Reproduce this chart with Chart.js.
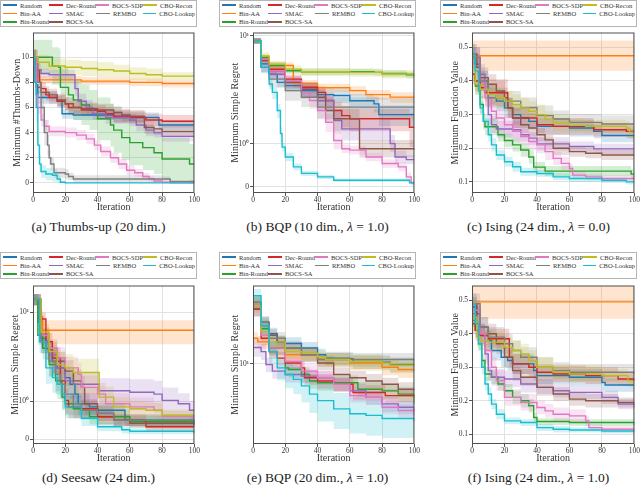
<!DOCTYPE html>
<html>
<head>
<meta charset="utf-8">
<title>Combinatorial BO results</title>
<script src="https://cdn.jsdelivr.net/npm/chart.js"></script>
<style>
  body { margin: 0; width: 640px; height: 486px; background: #fff; position: relative; overflow: hidden;
         font-family: "Liberation Serif", "DejaVu Serif", serif; color: #222; }
  canvas { position: absolute; }
  .legend { position: absolute; width: 197px; height: 27px; box-sizing: border-box; border: 1px solid #b5b5b5;
            display: grid; grid-template-columns: 46px 47px 47px 52px; grid-template-rows: repeat(3, 8.3px);
            padding: 0 0 0 2px; font-size: 6.5px; color: #333; }
  .item { display: flex; align-items: center; white-space: nowrap; }
  .sw { display: inline-block; width: 14px; height: 1.6px; margin-right: 3px; }
  .cap { position: absolute; width: 197px; text-align: center; font-size: 13.5px; white-space: nowrap; }
</style>
</head>
<body>
<script>
// methods in legend order
var methods = ['Random', 'Bin-AA', 'Bin-Round', 'Dec-Round', 'SMAC', 'BOCS-SA', 'BOCS-SDP', 'REMBO', 'CBO-Recon', 'CBO-Lookup'];
var colors = ['#1f77b4', '#ff7f0e', '#2ca02c', '#d62728', '#9467bd', '#8c564b', '#e377c2', '#7f7f7f', '#bcbd22', '#17becf'];
// legend cells (column, row), filled column by column: 3, 3, 2, 2
var legendCells = [[1,1],[1,2],[1,3],[2,1],[2,2],[2,3],[3,1],[3,2],[4,1],[4,2]];

// each series: [iteration, mean, spread] at every step change

// (a) Thumbs-up (20 dim.)
var thumbsUp = [
  [[0,10,.6],[2,7.8,.6],[3,6.8,.5],[15,6.5,.4],[18,5.5,.4],[25,5.4,.4],[50,5.2,.4],[78,4.6,.4],[100,4.6,.4]],
  [[0,10,.6],[2,8.5,.4],[4,8.2,.3],[30,8.1,.3],[60,8.0,.3],[80,7.9,.3],[100,7.85,.3]],
  [[0,10,1.4],[12,9.3,1.5],[16,9.2,1.5],[17,7.6,1.6],[22,7.0,1.6],[25,6.6,1.6],[30,6.2,1.6],[35,5.8,1.6],[40,5.1,1.7],[48,4.6,1.7],[50,4.2,1.8],[55,3.6,1.8],[60,3.2,1.8],[68,2.8,1.8],[75,2.4,1.7],[80,1.9,1.7],[97,1.5,1.6],[100,1.5,1.6]],
  [[0,10,.6],[2,9,.6],[4,8,.5],[5,7.5,.5],[8,7.0,.5],[10,6.8,.5],[15,6.5,.5],[20,6.3,.5],[22,6.0,.5],[30,5.8,.5],[40,5.7,.5],[45,5.5,.5],[50,5.3,.5],[60,5.2,.5],[70,5.0,.5],[80,4.9,.5],[100,4.9,.5]],
  [[0,10,.6],[2,9,.5],[5,8.7,.4],[10,8.6,.4],[26,7.5,.6],[28,6.5,.6],[33,6.0,.6],[37,5.5,.5],[45,5.2,.5],[60,5.0,.5],[64,4.6,.5],[70,4.2,.5],[75,4.0,.4],[80,3.7,.4],[100,3.7,.4]],
  [[0,10,.6],[2,7.6,.5],[5,7.2,.5],[10,7.0,.5],[15,6.6,.5],[20,6.3,.5],[25,6.0,.5],[30,5.9,.5],[40,5.8,.5],[50,5.6,.5],[55,5.4,.5],[60,5.3,.5],[69,4.4,.5],[75,4.3,.5],[80,4.1,.4],[100,4.1,.4]],
  [[0,10,.6],[2,7,.6],[3,6,.5],[5,5,.5],[7,4.5,.5],[10,4.1,.4],[20,4.0,.4],[27,3.8,.4],[33,3.5,.4],[38,3.0,.4],[42,2.5,.4],[48,2.0,.4],[53,1.5,.4],[58,1.0,.4],[63,0.8,.3],[68,0.5,.3],[72,0.3,.2],[75,0.15,.15],[80,0.05,.1],[85,0,0],[100,0,0]],
  [[0,10,.6],[3,8,.8],[5,6,1.0],[7,4,1.0],[9,3,.8],[10,2,.6],[11,1.5,.5],[13,0.8,.4],[20,0.7,.4],[22,0.5,.3],[25,0.3,.3],[80,0.3,.2],[85,0.1,.1],[100,0.05,.05]],
  [[0,10,.6],[3,9.6,.6],[10,9.3,.6],[20,9.2,.6],[30,9.1,.6],[40,9.0,.6],[50,8.9,.5],[60,8.7,.5],[70,8.6,.5],[80,8.5,.3],[100,8.5,.3]],
  [[0,10,.6],[1,8,1.0],[2,6,1.2],[3,3,1.0],[4,1.5,.7],[5,0.9,.5],[8,0.7,.5],[12,0.6,.5],[15,0.3,.3],[17,0.05,.1],[20,0,0],[100,0,0]]
];

// (b) BQP (10 dim., lambda = 1.0)
var bqp10 = [
  [[0,9,.5],[5,5.5,.5],[10,4.4,.4],[15,3.7,.4],[20,3.45,.4],[30,3.1,.4],[40,2.85,.4],[50,2.8,.4],[60,2.5,.4],[75,2.34,.4],[78,1.86,.4],[100,1.86,.4]],
  [[0,9,.5],[5,6.1,.4],[10,5.3,.4],[25,3.6,.3],[40,3.3,.3],[60,3.1,.3],[70,2.85,.3],[85,2.7,.3],[100,2.65,.3]],
  [[0,9,.5],[5,6.3,.4],[10,5.3,.4],[20,4.74,.3],[30,4.64,.3],[75,4.58,.3],[80,4.48,.3],[95,4.35,.3],[100,4.35,.3]],
  [[0,9,.5],[5,5.9,.4],[10,4.9,.4],[20,3.97,.4],[30,3.33,.4],[40,2.99,.4],[45,2.51,.4],[50,2.03,.4],[55,1.82,.4],[60,1.7,.4],[97,1.42,.5],[100,1.42,.5]],
  [[0,9,.5],[5,5.1,.5],[10,4.4,.5],[20,3.7,.4],[30,3.2,.5],[40,2.5,.5],[50,1.64,.4],[55,1.37,.3],[85,1.0,.2],[88,0.69,.15],[95,0.63,.1],[100,0.63,.1]],
  [[0,9,.5],[5,5.9,.5],[10,4.74,.5],[20,3.7,.5],[30,3.2,.5],[40,2.69,.5],[45,2.03,.4],[50,1.7,.4],[66,0.88,.2],[100,0.86,.15]],
  [[0,9,.5],[5,6.1,.4],[10,4.74,.4],[20,3.84,.4],[30,2.99,.4],[35,2.51,.4],[40,2.03,.3],[45,1.58,.3],[50,1.07,.2],[55,0.88,.1],[60,0.85,.1],[70,0.69,.1],[80,0.54,.1],[90,0.46,.1],[95,0.23,.1],[98,0.09,.05],[100,0.08,.05]],
  [[0,9,.5],[5,5.1,.6],[10,3.97,.6],[20,3.1,.6],[30,2.69,.5],[40,2.18,.5],[100,2.15,.5]],
  [[0,9,.5],[5,6.5,.5],[10,5.46,.4],[20,4.91,.4],[30,4.64,.4],[60,4.58,.4],[80,4.42,.4],[100,4.18,.4]],
  [[0,9,.5],[5,5.1,.5],[10,3.57,.4],[12,2.99,.4],[15,2.03,.3],[17,1.24,.2],[18,0.92,.1],[20,0.69,.1],[25,0.46,.08],[30,0.31,.06],[40,0.23,.05],[50,0.15,.04],[96,0.15,.04],[97,0.09,.04],[100,0.09,.04]]
];

// (c) Ising (24 dim., lambda = 0.0)
var ising0 = [
  [[0,.48,.03],[2,.45,.03],[5,.40,.03],[10,.36,.03],[15,.34,.03],[20,.32,.03],[25,.30,.03],[30,.29,.03],[35,.28,.025],[40,.265,.025],[60,.26,.025],[75,.25,.02],[80,.238,.02],[100,.238,.02]],
  [[0,.475,.045],[100,.475,.045]],
  [[0,.42,.02],[2,.385,.025],[5,.33,.025],[7,.28,.025],[8,.264,.025],[16,.24,.02],[20,.223,.02],[25,.21,.02],[30,.195,.02],[35,.174,.02],[38,.144,.015],[45,.132,.015],[98,.123,.015],[100,.123,.015]],
  [[0,.42,.03],[2,.40,.03],[5,.38,.03],[8,.365,.04],[22,.32,.03],[25,.29,.03],[40,.27,.025],[50,.265,.025],[75,.255,.02],[95,.25,.02],[100,.25,.02]],
  [[0,.47,.03],[5,.42,.03],[8,.37,.03],[10,.30,.03],[12,.27,.025],[15,.257,.025],[25,.255,.025],[30,.24,.02],[35,.23,.02],[40,.213,.02],[60,.205,.015],[75,.198,.015],[100,.198,.015]],
  [[0,.48,.03],[3,.44,.03],[5,.41,.03],[10,.39,.03],[15,.37,.03],[20,.35,.03],[22,.32,.03],[25,.29,.03],[30,.27,.025],[35,.26,.025],[40,.24,.02],[45,.225,.02],[50,.20,.02],[60,.19,.015],[70,.185,.015],[80,.18,.015],[100,.18,.015]],
  [[0,.47,.03],[5,.40,.03],[8,.35,.03],[12,.31,.03],[15,.29,.03],[20,.27,.03],[25,.25,.03],[30,.235,.025],[35,.22,.025],[40,.21,.025],[45,.19,.025],[50,.17,.02],[55,.155,.02],[60,.14,.015],[62,.12,.01],[70,.115,.01],[80,.11,.01],[100,.108,.01]],
  [[0,.47,.03],[5,.40,.03],[10,.35,.03],[20,.34,.03],[30,.321,.03],[40,.297,.03],[50,.287,.025],[60,.277,.025],[80,.272,.025],[100,.272,.025]],
  [[0,.44,.03],[2,.39,.03],[5,.375,.03],[10,.36,.03],[15,.35,.03],[20,.34,.03],[25,.33,.03],[30,.32,.03],[35,.31,.03],[40,.30,.03],[45,.285,.025],[50,.275,.025],[60,.268,.02],[70,.265,.02],[95,.26,.02],[97,.248,.02],[100,.248,.02]],
  [[0,.48,.02],[2,.43,.02],[4,.37,.02],[5,.32,.02],[7,.28,.02],[10,.24,.02],[12,.21,.02],[15,.18,.015],[20,.16,.015],[25,.145,.015],[30,.13,.012],[40,.125,.01],[50,.115,.01],[60,.11,.01],[80,.105,.008],[95,.10,.008],[100,.10,.008]]
];

// (d) Seesaw (24 dim.)
var seesaw = [
  [[0,14,2],[3,7.8,1.5],[5,5.1,1.2],[8,3.9,1],[12,2.8,.8],[15,2.37,.7],[20,1.84,.6],[23,1.55,.5],[26,1.2,.4],[28,.93,.3],[35,.85,.2],[40,.76,.2],[57,.5,.15],[100,.38,.12]],
  [[0,14,2],[3,9,2],[6,6.28,1.9],[100,6.28,1.9]],
  [[0,14,2],[3,5.53,1.2],[6,3.94,1],[10,2.58,.7],[14,1.69,.5],[18,1.11,.35],[20,.93,.3],[25,.8,.25],[35,.59,.2],[60,.46,.15],[100,.35,.12]],
  [[0,14,2],[4,8.44,1.5],[8,4.67,1.2],[12,3.06,1],[17,1.69,.6],[20,1.02,.35],[22,.85,.3],[30,.8,.25],[40,.59,.2],[50,.5,.15],[70,.33,.12],[100,.33,.12]],
  [[0,14,2],[5,4.67,1.2],[10,3.33,1],[15,2.37,.8],[20,1.69,.6],[25,1.55,.5],[41,1.31,.5],[60,1.26,.5],[75,1.2,.5],[80,1.02,.4],[90,.93,.3],[97,.76,.25],[100,.76,.25]],
  [[0,14,2],[5,5.53,1.2],[10,3.62,1],[15,2.81,.8],[20,2.18,.7],[25,1.69,.6],[30,1.43,.5],[32,.93,.3],[40,.68,.2],[50,.5,.15],[60,.42,.12],[100,.42,.12]],
  [[0,14,2],[5,5.53,1.3],[10,3.94,1.1],[15,3.06,1],[20,2.37,.8],[28,2.0,.7],[30,1.43,.5],[40,1.2,.4],[45,.93,.3],[55,.93,.3],[60,.85,.25],[75,.76,.2],[80,.6,.15],[100,.55,.15]],
  [[0,14,2],[5,4.67,1.2],[10,2.81,.9],[14,2.0,.7],[17,1.55,.5],[20,1.2,.4],[25,.93,.3],[30,.76,.25],[40,.68,.2],[50,.5,.15],[100,.38,.12]],
  [[0,14,2],[5,6.02,1.4],[10,3.62,1.2],[15,2.58,1],[20,2.37,1],[25,2.1,.9],[41,1.11,.35],[50,.85,.25],[60,.8,.2],[70,.76,.2],[80,.63,.15],[100,.59,.15]],
  [[0,14,2],[4,4.67,1.2],[8,2.37,.8],[12,1.84,.6],[15,1.55,.5],[18,1.2,.4],[20,.85,.3],[30,.55,.2],[40,.33,.12],[55,.25,.1],[60,.21,.08],[100,.16,.06]]
];

// (e) BQP (20 dim., lambda = 1.0)
var bqp20 = [
  [[0,21.2,2],[5,16.9,1.5],[10,15.1,1.3],[15,13.5,1.2],[20,13.2,1.2],[30,12.4,1.1],[40,11.3,1],[45,10.8,1],[60,10.7,1],[62,10.3,1],[80,10.2,1],[85,9.87,1],[100,9.78,1]],
  [[0,14.2,1.2],[3,13.5,1.2],[10,12.4,1.1],[20,11.3,1],[40,10.6,1],[60,10.1,1],[80,9.52,1],[90,9.22,1],[100,9.02,1]],
  [[0,23.3,2],[5,16.2,1.5],[10,12.4,1.2],[20,9.43,1],[22,9.22,1],[30,8.61,.9],[35,7.87,.8],[40,7.69,.8],[65,7.03,.7],[80,6.87,.7],[90,6.57,.7],[100,5.74,.6]],
  [[0,21.2,2],[5,14.2,1.3],[10,11.8,1.1],[15,10.8,1],[20,10.1,1],[30,9.43,.9],[32,8.24,.8],[40,7.87,.8],[50,7.52,.7],[62,6.72,.7],[82,6.43,.6],[100,6.28,.6]],
  [[0,12.5,1.5],[5,11.8,1.3],[8,9.87,1],[12,9.02,.9],[20,8.61,.9],[30,8.42,.8],[40,8.24,.8],[50,7.52,.7],[60,6.87,.7],[70,6.28,.6],[80,5.74,.6],[90,5.48,.5],[100,5.24,.5]],
  [[0,23.3,2],[5,17.7,1.5],[10,14.8,1.3],[15,13.5,1.2],[20,12.4,1.1],[30,11.3,1],[40,10.1,1],[50,8.61,.9],[60,8.24,.8],[70,7.87,.8],[80,7.52,.7],[90,7.03,.7],[100,6.87,.7]],
  [[0,22.2,2],[5,14.8,1.3],[10,12.4,1.1],[20,10.3,1],[30,9.02,.9],[40,8.24,.8],[50,7.52,.7],[60,6.43,.6],[70,6.28,.6],[80,5.48,.5],[90,5.24,.5],[100,4.9,.5]],
  [[0,23.3,2],[5,17.7,1.5],[10,14.2,1.3],[20,12.4,1.2],[30,11.3,1.1],[40,10.6,1],[100,10.4,1]],
  [[0,22.2,2],[5,15.5,1.5],[10,13.5,1.2],[20,11.8,1.1],[30,11.6,1.1],[40,11.0,1],[45,10.6,1],[60,10.3,1],[80,10.1,1],[85,9.78,1],[100,9.78,1]],
  [[0,25.5,2.5],[5,16.9,2],[10,11.8,1.8],[15,9.43,1.5],[20,8.61,1.5],[25,8.05,1.5],[30,7.36,1.5],[35,6.57,1.5],[40,6.0,1.5],[50,5.36,1.3],[60,5.01,1.2],[70,4.9,1.2],[80,4.69,1.1],[100,4.48,1.1]]
];

// (f) Ising (24 dim., lambda = 1.0)
var ising1 = [
  [[0,.48,.03],[3,.43,.03],[5,.40,.03],[8,.38,.03],[12,.35,.03],[18,.33,.03],[22,.32,.03],[25,.31,.03],[38,.29,.03],[40,.275,.025],[60,.27,.025],[80,.255,.025],[82,.247,.02],[100,.247,.02]],
  [[0,.495,.05],[100,.495,.05]],
  [[0,.44,.02],[2,.41,.02],[4,.37,.02],[6,.32,.02],[8,.28,.02],[12,.27,.02],[16,.25,.02],[20,.23,.02],[25,.21,.02],[30,.20,.02],[35,.185,.02],[38,.15,.015],[40,.138,.01],[60,.135,.01],[100,.128,.01]],
  [[0,.43,.03],[2,.41,.03],[5,.395,.03],[10,.385,.03],[23,.33,.03],[25,.31,.03],[35,.30,.03],[40,.285,.025],[50,.28,.025],[70,.275,.025],[90,.265,.02],[100,.26,.02]],
  [[0,.46,.03],[5,.40,.03],[8,.34,.03],[10,.29,.03],[12,.27,.025],[20,.265,.025],[30,.25,.025],[40,.24,.02],[50,.23,.02],[60,.225,.02],[80,.21,.02],[90,.19,.015],[100,.18,.015]],
  [[0,.49,.03],[3,.46,.03],[5,.42,.03],[10,.40,.03],[15,.37,.03],[20,.33,.03],[25,.29,.03],[30,.27,.025],[40,.24,.025],[50,.22,.02],[60,.205,.02],[70,.20,.02],[90,.195,.015],[100,.19,.015]],
  [[0,.47,.03],[5,.40,.03],[8,.35,.03],[12,.30,.03],[15,.26,.03],[20,.21,.025],[30,.195,.025],[40,.18,.02],[45,.17,.02],[50,.16,.02],[60,.155,.02],[70,.14,.015],[72,.12,.01],[80,.115,.01],[100,.113,.01]],
  [[0,.49,.03],[5,.42,.03],[10,.39,.03],[20,.37,.03],[25,.35,.03],[30,.33,.03],[40,.30,.03],[50,.29,.025],[60,.285,.025],[100,.28,.02]],
  [[0,.45,.03],[3,.39,.03],[5,.38,.03],[10,.375,.03],[20,.36,.03],[25,.35,.03],[30,.34,.03],[35,.32,.03],[40,.30,.03],[50,.285,.025],[60,.28,.025],[80,.275,.02],[96,.26,.02],[100,.26,.02]],
  [[0,.49,.02],[2,.43,.02],[4,.37,.02],[6,.30,.02],[8,.25,.02],[10,.22,.02],[12,.19,.015],[15,.16,.015],[20,.14,.01],[30,.135,.01],[40,.12,.01],[50,.115,.01],[60,.113,.008],[80,.11,.008],[100,.107,.008]]
];

var xTicks = [0, 20, 40, 60, 80, 100];

// symlog-like axis used in the regret plots
function symlog(lin) {
  return function(v) { return v <= 1 ? v * lin : lin + Math.log10(v); };
}
function ident(v) { return v; }

var panels = [
  { data: thumbsUp, left: 0, top: 27, w: 200, h: 191, yw: 33, pr: 4, pt: 4, xh: 25, xpad: 5, tpad: 11,
    title: 'Minimum #Thumbs-Down', tf: ident, min: -0.81, max: 11.97,
    ticks: [0, 2, 4, 6, 8, 10], labels: ['0', '2', '4', '6', '8', '10'], floor: -1,
    cap: '(a) Thumbs-up (20 dim.)', capTop: 219, legLeft: 0, legTop: 0 },
  { data: bqp10, left: 210, top: 27, w: 210, h: 191, yw: 43, pr: 4, pt: 4, xh: 25, xpad: 5, tpad: 19,
    title: 'Minimum Simple Regret', tf: symlog(0.4), min: -0.058, max: 1.431,
    ticks: [0, 1, 10], labels: ['0', '10\u2070', '10\u00b9'], floor: 0,
    cap: '(b) BQP (10 dim., <i>\u03bb</i> = 1.0)', capTop: 219, legLeft: 219, legTop: 0 },
  { data: ising0, left: 420, top: 27, w: 220, h: 191, yw: 52, pr: 5, pt: 4, xh: 25, xpad: 5, tpad: 29,
    title: 'Minimum Function Value', tf: ident, min: 0.067, max: 0.544,
    ticks: [0.1, 0.2, 0.3, 0.4, 0.5], labels: ['0.1', '0.2', '0.3', '0.4', '0.5'], floor: 0,
    cap: '(c) Ising (24 dim., <i>\u03bb</i> = 0.0)', capTop: 219, legLeft: 440, legTop: 0 },
  { data: seesaw, left: 0, top: 280, w: 200, h: 190, yw: 33, pr: 4, pt: 3, xh: 26, xpad: 6, tpad: 9,
    title: 'Minimum Simple Regret', tf: symlog(0.43), min: -0.053, max: 1.733,
    ticks: [0, 1, 10], labels: ['0', '10\u2070', '10\u00b9'], floor: 0,
    cap: '(d) Seesaw (24 dim.)', capTop: 470, legLeft: 0, legTop: 252 },
  { data: bqp20, left: 210, top: 280, w: 210, h: 190, yw: 43, pr: 4, pt: 3, xh: 26, xpad: 6, tpad: 19,
    title: 'Minimum Simple Regret', tf: ident, log: true, min: 3.3, max: 29.4,
    ticks: [10], labels: ['10\u00b9'], floor: 1,
    cap: '(e) BQP (20 dim., <i>\u03bb</i> = 1.0)', capTop: 470, legLeft: 219, legTop: 252 },
  { data: ising1, left: 420, top: 280, w: 220, h: 190, yw: 52, pr: 5, pt: 3, xh: 26, xpad: 6, tpad: 29,
    title: 'Minimum Function Value', tf: ident, min: 0.071, max: 0.544,
    ticks: [0.1, 0.2, 0.3, 0.4, 0.5], labels: ['0.1', '0.2', '0.3', '0.4', '0.5'], floor: 0,
    cap: '(f) Ising (24 dim., <i>\u03bb</i> = 1.0)', capTop: 470, legLeft: 440, legTop: 252 }
];

var frame = {
  id: 'frame',
  afterDatasetsDraw: function(chart) {
    var a = chart.chartArea, ctx = chart.ctx;
    ctx.save();
    ctx.strokeStyle = '#505050';
    ctx.lineWidth = 1;
    ctx.strokeRect(a.left + 0.5, a.top + 0.5, a.right - a.left - 1, a.bottom - a.top - 1);
    ctx.restore();
  }
};

function hexA(hex, a) {
  var n = parseInt(hex.slice(1), 16);
  return 'rgba(' + (n >> 16) + ',' + ((n >> 8) & 255) + ',' + (n & 255) + ',' + a + ')';
}

function addLegend(left, top) {
  var box = document.createElement('div');
  box.className = 'legend';
  box.style.left = left + 'px';
  box.style.top = top + 'px';
  for (var i = 0; i < methods.length; i++) {
    var e = document.createElement('div');
    e.className = 'item';
    e.style.gridColumn = legendCells[i][0];
    e.style.gridRow = legendCells[i][1];
    e.innerHTML = '<span class="sw" style="background:' + colors[i] + '"></span>' + methods[i];
    box.appendChild(e);
  }
  document.body.appendChild(box);
}

function addCaption(left, top, html) {
  var d = document.createElement('div');
  d.className = 'cap';
  d.style.left = left + 'px';
  d.style.top = top + 'px';
  d.innerHTML = html;
  document.body.appendChild(d);
}

panels.forEach(function(p) {
  addLegend(p.legLeft, p.legTop);
  addCaption(p.legLeft, p.capTop, p.cap);

  var canvas = document.createElement('canvas');
  canvas.width = p.w;
  canvas.height = p.h;
  canvas.style.left = p.left + 'px';
  canvas.style.top = p.top + 'px';
  document.body.appendChild(canvas);

  var bands = [], lines = [];
  for (var i = methods.length - 1; i >= 0; i--) {
    var pts = p.data[i];
    bands.push({
      data: pts.map(function(q) { return { x: q[0], y: p.tf(q[1] + q[2]) }; }),
      borderWidth: 0, borderColor: 'transparent', backgroundColor: hexA(colors[i], 0.2),
      fill: '+1', stepped: true, order: 1
    });
    bands.push({
      data: pts.map(function(q) { return { x: q[0], y: p.tf(Math.max(q[1] - q[2], p.floor)) }; }),
      borderWidth: 0, borderColor: 'transparent', fill: false, stepped: true, order: 1
    });
    lines.push({
      label: methods[i],
      data: pts.map(function(q) { return { x: q[0], y: p.tf(q[1]) }; }),
      borderColor: colors[i], borderWidth: 1.4, fill: false, stepped: true, order: 0
    });
  }

  var tickFont = { family: 'Liberation Serif', size: 7.5 };
  var titleFont = { family: 'Liberation Serif', size: 10 };

  new Chart(canvas.getContext('2d'), {
    type: 'line',
    data: { datasets: bands.concat(lines) },
    options: {
      responsive: false,
      animation: false,
      layout: { padding: { top: p.pt, right: p.pr, left: 0, bottom: 0 } },
      elements: { point: { radius: 0 } },
      plugins: { legend: { display: false }, tooltip: { enabled: false } },
      scales: {
        x: {
          type: 'linear', min: 0, max: 100,
          afterBuildTicks: function(s) { s.ticks = xTicks.map(function(v) { return { value: v }; }); },
          ticks: { font: tickFont, color: '#333', padding: 0, maxRotation: 0 },
          grid: { color: '#e2e2e2', tickLength: 3, tickColor: '#555' },
          border: { display: false },
          title: { display: true, text: 'Iteration', font: titleFont, color: '#333', padding: { top: 0, bottom: p.xpad } },
          afterFit: function(s) { s.height = p.xh; }
        },
        y: {
          type: p.log ? 'logarithmic' : 'linear', min: p.min, max: p.max,
          afterBuildTicks: function(s) { s.ticks = p.ticks.map(function(v) { return { value: p.tf(v) }; }); },
          ticks: { font: tickFont, color: '#333', padding: 1,
                   callback: function(v, idx) { return p.labels[idx]; } },
          grid: { color: '#e2e2e2', tickLength: 3, tickColor: '#555' },
          border: { display: false },
          title: { display: true, text: p.title, font: titleFont, color: '#333', padding: { top: p.tpad, bottom: 0 } },
          afterFit: function(s) { s.width = p.yw; }
        }
      }
    },
    plugins: [frame]
  });
});
</script>
</body>
</html>
